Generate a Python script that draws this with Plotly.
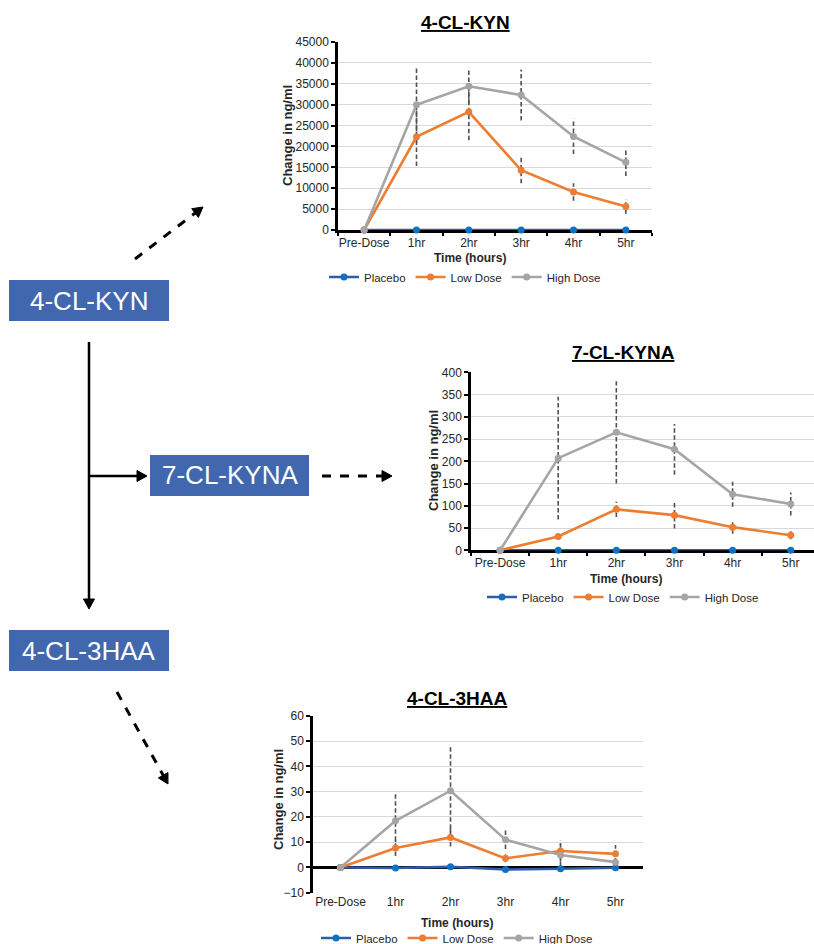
import plotly.graph_objects as go

W, H = 814, 944

# ---------------- data ----------------
times = ["Pre-Dose", "1hr", "2hr", "3hr", "4hr", "5hr"]
series_names = ["Placebo", "Low Dose", "High Dose"]

kyn_placebo = [0, 0, 0, 0, 0, 0]
kyn_low = [0, 22300, 28300, 14300, 9100, 5600]
kyn_high = [0, 30000, 34400, 32300, 22400, 16200]
kyn_low_err = [0, 7000, 6800, 3100, 2100, 1700]
kyn_high_err = [0, 9200, 4000, 6100, 4200, 3300]

kyna_placebo = [0, 0, 0, 0, 0, 0]
kyna_low = [0, 31, 92, 79, 52, 34]
kyna_high = [0, 207, 265, 227, 126, 104]
kyna_low_err = [0, 7, 17, 30, 15, 9]
kyna_high_err = [0, 138, 115, 57, 28, 26]

haa_placebo = [0, -0.2, 0.3, -0.8, -0.5, -0.1]
haa_low = [0, 7.7, 11.9, 3.6, 6.5, 5.4]
haa_high = [0, 18.5, 30.4, 11.0, 4.9, 2.1]
haa_low_err = [0, 3.2, 3.6, 1.5, 4.2, 3.5]
haa_high_err = [0, 10.7, 17.8, 3.7, 4.5, 1.5]

chart_titles = ["4-CL-KYN", "7-CL-KYNA", "4-CL-3HAA"]
box_labels = ["4-CL-KYN", "7-CL-KYNA", "4-CL-3HAA"]
x_title = "Time (hours)"
y_title = "Change in ng/ml"

# ---------------- style ----------------
FONT = "Liberation Sans, Arial, sans-serif"
C_PLACEBO_LINE = "#2F5DA8"
C_PLACEBO_MARK = "#1070C4"
C_LOW = "#ED7D31"
C_HIGH = "#A5A5A5"
C_ERR = "#505050"
C_BOX = "#4168AE"
TXT = "#262626"


def fx(px):
    return px / W


def fy(py):
    return 1 - py / H


fig = go.Figure()

charts = [
    dict(placebo=kyn_placebo, low=kyn_low, high=kyn_high, low_err=kyn_low_err, high_err=kyn_high_err,
         xd=(338, 652), yd=(230, 42), xr=[-0.5, 5.5], yr=[0, 45000], dt=5000,
         title_xy=(465, 23), xt_xy=(470, 258), yt_xy=(287, 136), leg_xy=(465, 277), zero_mode="line"),
    dict(placebo=kyna_placebo, low=kyna_low, high=kyna_high, low_err=kyna_low_err, high_err=kyna_high_err,
         xd=(471, 814), yd=(550.3, 372.3), xr=[-0.5, 5.4], yr=[0, 400], dt=50,
         title_xy=(623, 353), xt_xy=(626, 579), yt_xy=(433, 461), leg_xy=(623, 597), zero_mode="line"),
    dict(placebo=haa_placebo, low=haa_low, high=haa_high, low_err=haa_low_err, high_err=haa_high_err,
         xd=(313, 643), yd=(892.7, 716), xr=[-0.5, 5.5], yr=[-10, 60], dt=10,
         title_xy=(457, 698), xt_xy=(457, 923), yt_xy=(278, 800), leg_xy=(457, 938), zero_mode="zero"),
]

annotations = []
for i, c in enumerate(charts):
    n = i + 1
    xa = "x" if n == 1 else f"x{n}"
    ya = "y" if n == 1 else f"y{n}"
    leg = "legend" if n == 1 else f"legend{n}"

    # dashed error bars (mean ± error), drawn beneath the series
    for vals, errs in ((c["low"], c["low_err"]), (c["high"], c["high_err"])):
        ex, ey = [], []
        for t, v, e in zip(times, vals, errs):
            if e > 0:
                ex += [t, t, None]
                ey += [v - e, v + e, None]
        fig.add_trace(go.Scatter(x=ex, y=ey, mode="lines", xaxis=xa, yaxis=ya,
                                 line=dict(color=C_ERR, width=1.6, dash="4.5px,2.5px"),
                                 showlegend=False, hoverinfo="skip", cliponaxis=False))

    specs = [
        (series_names[0], c["placebo"], C_PLACEBO_LINE, C_PLACEBO_MARK),
        (series_names[1], c["low"], C_LOW, C_LOW),
        (series_names[2], c["high"], C_HIGH, C_HIGH),
    ]
    for name, vals, lc, mc in specs:
        fig.add_trace(go.Scatter(x=times, y=vals, name=name, mode="lines+markers",
                                 xaxis=xa, yaxis=ya, legend=leg, cliponaxis=False,
                                 line=dict(color=lc, width=2.6),
                                 marker=dict(color=mc, size=7, symbol="circle")))

    xkey = "xaxis" if n == 1 else f"xaxis{n}"
    ykey = "yaxis" if n == 1 else f"yaxis{n}"
    xaxis = dict(domain=[fx(c["xd"][0]), fx(c["xd"][1])], anchor=ya, type="category",
                 categoryorder="array", categoryarray=times, range=c["xr"],
                 showgrid=False, zeroline=False, layer="below traces", automargin=False,
                 tickangle=0,
                 tickfont=dict(family=FONT, size=12, color=TXT), fixedrange=True)
    if c["zero_mode"] == "line":
        xaxis.update(showline=True, linecolor="black", linewidth=2.5,
                     ticks="outside", tickson="boundaries", ticklen=3, tickcolor="black", tickwidth=2)
    else:
        xaxis.update(showline=False, ticks="")
    yaxis = dict(domain=[fy(c["yd"][0]), fy(c["yd"][1])], anchor=xa, range=c["yr"], dtick=c["dt"],
                 tick0=0, exponentformat="none", automargin=False,
                 showline=True, linecolor="black", linewidth=2.5, layer="below traces",
                 ticks="outside", ticklen=4, tickcolor="black", tickwidth=1.5,
                 showgrid=True, gridcolor="#D9D9D9", gridwidth=1,
                 zeroline=(c["zero_mode"] == "zero"), zerolinecolor="black", zerolinewidth=2.5,
                 tickfont=dict(family=FONT, size=12, color=TXT), fixedrange=True)
    if c["yr"][0] >= 0:
        yaxis["tickformat"] = "d"
    fig.update_layout({xkey: xaxis, ykey: yaxis})

    fig.update_layout({leg: dict(orientation="h", x=fx(c["leg_xy"][0]), y=fy(c["leg_xy"][1]),
                                 xanchor="center", yanchor="middle", bgcolor="rgba(0,0,0,0)",
                                 font=dict(family=FONT, size=11.5, color=TXT),
                                 itemwidth=30, tracegroupgap=0)})

    annotations.append(dict(text=f"<b><u>{chart_titles[i]}</u></b>", x=fx(c["title_xy"][0]),
                            y=fy(c["title_xy"][1]), xref="paper", yref="paper", showarrow=False,
                            xanchor="center", yanchor="middle",
                            font=dict(family=FONT, size=19, color="black")))
    annotations.append(dict(text=f"<b>{x_title}</b>", x=fx(c["xt_xy"][0]), y=fy(c["xt_xy"][1]),
                            xref="paper", yref="paper", showarrow=False, xanchor="center",
                            yanchor="middle", font=dict(family=FONT, size=12, color=TXT)))
    annotations.append(dict(text=f"<b>{y_title}</b>", x=fx(c["yt_xy"][0]), y=fy(c["yt_xy"][1]),
                            xref="paper", yref="paper", showarrow=False, textangle=-90,
                            xanchor="center", yanchor="middle",
                            font=dict(family=FONT, size=13, color=TXT)))

# ---------------- pathway diagram ----------------
shapes = []
boxes = [(9, 280, 169, 321), (150, 455, 309, 496), (9, 630, 169, 671)]
for (x0, y0, x1, y1), lab in zip(boxes, box_labels):
    shapes.append(dict(type="rect", xref="paper", yref="paper", x0=fx(x0), x1=fx(x1), y0=fy(y1), y1=fy(y0),
                       fillcolor=C_BOX, line=dict(width=0), layer="above"))
    annotations.append(dict(text=lab, x=fx((x0 + x1) / 2), y=fy((y0 + y1) / 2), xref="paper", yref="paper",
                            showarrow=False, xanchor="center", yanchor="middle",
                            font=dict(family=FONT, size=26, color="white")))


def arrow(x0, y0, x1, y1, dashed, width):
    dx, dy = x1 - x0, y1 - y0
    L = (dx * dx + dy * dy) ** 0.5
    ux, uy = dx / L, dy / L
    hl, hw = 10, 5.5
    bx, by = x1 - ux * hl, y1 - uy * hl
    shapes.append(dict(type="line", xref="paper", yref="paper", x0=fx(x0), y0=fy(y0),
                       x1=fx(bx + ux * 1), y1=fy(by + uy * 1),
                       line=dict(color="black", width=width, dash="dash" if dashed else "solid")))
    px_, py_ = -uy, ux
    p1 = (bx + px_ * hw, by + py_ * hw)
    p2 = (bx - px_ * hw, by - py_ * hw)
    path = (f"M {fx(x1)},{fy(y1)} L {fx(p1[0])},{fy(p1[1])} "
            f"L {fx(p2[0])},{fy(p2[1])} Z")
    shapes.append(dict(type="path", xref="paper", yref="paper", path=path,
                       fillcolor="black", line=dict(color="black", width=1)))


arrow(89, 342, 89, 609, False, 2.5)
arrow(89, 476, 147, 476, False, 2.5)
arrow(322, 476, 392, 476, True, 3)
arrow(135, 259, 203, 207, True, 3)
arrow(117, 692, 168, 784, True, 3)

fig.update_layout(width=W, height=H, margin=dict(l=0, r=0, t=0, b=0, autoexpand=False),
                  paper_bgcolor="white", plot_bgcolor="white",
                  annotations=annotations, shapes=shapes,
                  font=dict(family=FONT, color=TXT), hovermode=False)

fig.write_html("out.html", config={"displayModeBar": False},
               post_script="document.body.style.margin='0';")
